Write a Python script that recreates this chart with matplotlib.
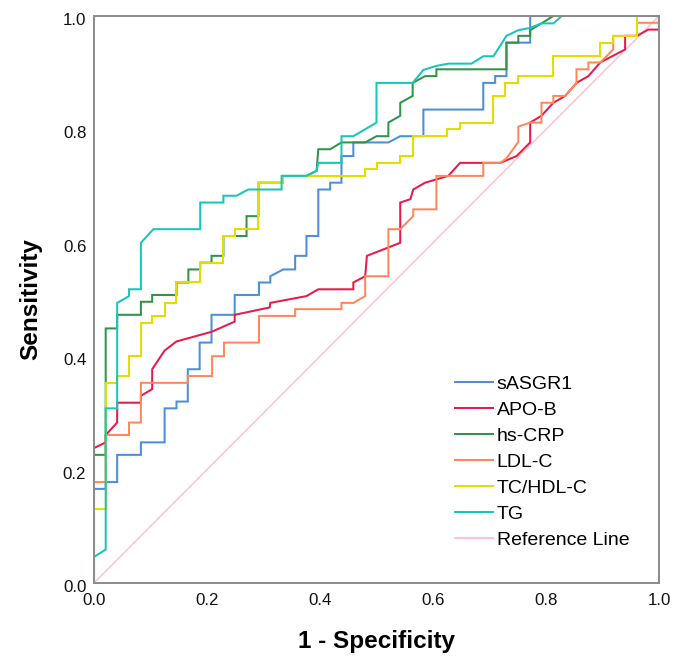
import numpy as np
import matplotlib
matplotlib.use("Agg")
import matplotlib.pyplot as plt
from matplotlib.transforms import ScaledTranslation

# ROC curve vertices (1 - specificity, sensitivity)
sasgr1 = [(0,0),(0,0.166),(0.0207,0.166),(0.0207,0.178),(0.041,0.178),(0.041,0.226),
          (0.083,0.226),(0.083,0.248),(0.125,0.248),(0.125,0.308),(0.146,0.308),(0.146,0.320),
          (0.166,0.320),(0.166,0.377),(0.187,0.377),(0.187,0.424),(0.208,0.424),(0.208,0.473),
          (0.249,0.473),(0.249,0.508),(0.292,0.508),(0.292,0.530),(0.312,0.530),(0.312,0.541),
          (0.335,0.553),(0.356,0.553),(0.356,0.577),(0.376,0.577),(0.376,0.612),(0.397,0.612),
          (0.397,0.694),(0.418,0.694),(0.418,0.706),(0.438,0.706),(0.438,0.753),(0.459,0.753),
          (0.459,0.777),(0.521,0.777),(0.542,0.788),(0.583,0.788),(0.583,0.835),(0.689,0.835),
          (0.689,0.882),(0.710,0.882),(0.710,0.894),(0.730,0.894),(0.730,0.953),(0.772,0.953),
          (0.772,1.0),(1.0,1.0)]

apob = [(0,0),(0,0.238),(0.0207,0.248),(0.0207,0.261),(0.041,0.283),(0.041,0.318),
        (0.083,0.318),(0.083,0.330),(0.103,0.342),(0.103,0.377),(0.125,0.410),(0.146,0.426),
        (0.208,0.443),(0.249,0.461),(0.249,0.473),(0.311,0.486),(0.312,0.494),(0.376,0.506),
        (0.397,0.518),(0.459,0.518),(0.459,0.530),(0.480,0.541),(0.483,0.577),(0.542,0.600),
        (0.542,0.671),(0.560,0.677),(0.565,0.694),(0.586,0.706),(0.627,0.718),(0.648,0.741),
        (0.719,0.741),(0.748,0.753),(0.772,0.777),(0.772,0.812),(0.792,0.824),(0.813,0.847),
        (0.834,0.859),(0.854,0.882),(0.875,0.894),(0.896,0.918),(0.940,0.941),(0.940,0.965),
        (0.961,0.965),(0.981,0.976),(1.0,0.976),(1.0,1.0)]

hscrp = [(0,0),(0,0.226),(0.0207,0.226),(0.0207,0.449),(0.041,0.449),(0.041,0.473),
         (0.083,0.473),(0.083,0.496),(0.103,0.496),(0.103,0.508),(0.146,0.508),(0.146,0.530),
         (0.167,0.530),(0.167,0.553),(0.188,0.553),(0.188,0.565),(0.208,0.565),(0.208,0.577),
         (0.229,0.577),(0.229,0.612),(0.270,0.612),(0.270,0.647),(0.291,0.647),(0.291,0.706),
         (0.334,0.706),(0.334,0.718),(0.376,0.718),(0.394,0.727),(0.397,0.765),(0.418,0.765),
         (0.438,0.777),(0.480,0.777),(0.500,0.788),(0.521,0.788),(0.521,0.812),(0.542,0.824),
         (0.542,0.847),(0.564,0.859),(0.564,0.882),(0.586,0.894),(0.606,0.894),(0.606,0.906),
         (0.730,0.906),(0.730,0.953),(0.751,0.953),(0.751,0.965),(0.772,0.965),(0.772,0.975),
         (0.792,0.987),(0.813,1.0),(1.0,1.0)]

ldlc = [(0,0),(0,0.178),(0.0207,0.178),(0.0207,0.261),(0.062,0.261),(0.062,0.283),
        (0.083,0.283),(0.083,0.353),(0.166,0.353),(0.166,0.365),(0.209,0.365),(0.209,0.400),
        (0.230,0.400),(0.230,0.424),(0.292,0.424),(0.292,0.471),(0.356,0.471),(0.356,0.483),
        (0.438,0.483),(0.438,0.494),(0.459,0.494),(0.480,0.506),(0.480,0.541),(0.521,0.541),
        (0.521,0.624),(0.542,0.624),(0.565,0.647),(0.565,0.659),(0.606,0.659),(0.606,0.718),
        (0.689,0.718),(0.689,0.741),(0.719,0.741),(0.730,0.749),(0.751,0.778),(0.751,0.805),
        (0.772,0.812),(0.792,0.812),(0.792,0.847),(0.813,0.847),(0.813,0.859),(0.834,0.859),
        (0.854,0.882),(0.854,0.906),(0.875,0.906),(0.875,0.918),(0.896,0.918),(0.919,0.941),
        (0.919,0.965),(0.961,0.965),(0.961,0.988),(1.0,0.988),(1.0,1.0)]

tchdl = [(0,0),(0,0.130),(0.0207,0.130),(0.0207,0.353),(0.041,0.353),(0.041,0.365),
         (0.062,0.365),(0.062,0.400),(0.083,0.400),(0.083,0.459),(0.103,0.459),(0.103,0.471),
         (0.125,0.471),(0.125,0.494),(0.146,0.494),(0.146,0.530),(0.188,0.530),(0.188,0.565),
         (0.229,0.565),(0.229,0.612),(0.250,0.612),(0.250,0.624),(0.291,0.624),(0.291,0.706),
         (0.334,0.706),(0.334,0.718),(0.480,0.718),(0.480,0.730),(0.500,0.730),(0.500,0.741),
         (0.542,0.741),(0.542,0.753),(0.565,0.753),(0.565,0.788),(0.624,0.788),(0.624,0.800),
         (0.648,0.800),(0.648,0.812),(0.707,0.812),(0.707,0.859),(0.727,0.859),(0.727,0.882),
         (0.751,0.882),(0.751,0.894),(0.813,0.894),(0.813,0.929),(0.896,0.929),(0.896,0.953),
         (0.919,0.953),(0.919,0.965),(0.961,0.965),(0.961,1.0),(1.0,1.0)]

tg = [(0,0),(0,0.046),(0.0207,0.059),(0.0207,0.308),(0.041,0.308),(0.041,0.494),
      (0.062,0.506),(0.062,0.518),(0.083,0.518),(0.083,0.600),(0.105,0.624),(0.188,0.624),
      (0.188,0.671),(0.229,0.671),(0.229,0.683),(0.2525,0.683),(0.273,0.694),(0.332,0.694),
      (0.332,0.718),(0.376,0.718),(0.394,0.727),(0.397,0.741),(0.438,0.741),(0.438,0.788),
      (0.459,0.788),(0.500,0.812),(0.500,0.882),(0.564,0.882),(0.583,0.905),(0.606,0.912),
      (0.627,0.916),(0.668,0.916),(0.689,0.929),(0.707,0.929),(0.730,0.965),(0.751,0.975),
      (0.772,0.979),(0.792,0.987),(0.813,0.987),(0.828,1.0),(1.0,1.0)]

labels = ["sASGR1", "APO-B", "hs-CRP", "LDL-C", "TC/HDL-C", "TG"]
curves = [sasgr1, apob, hscrp, ldlc, tchdl, tg]
colors = ["#4A8FD8", "#E8194B", "#2F9447", "#FF875A", "#E3DE00", "#14C7B6"]
ref_color = "#FBC3D3"
ticks = [0.0, 0.2, 0.4, 0.6, 0.8, 1.0]

plt.rcParams['font.family'] = ['Liberation Sans', 'DejaVu Sans']

fig = plt.figure(figsize=(6.85, 6.70), dpi=100)
ax = fig.add_axes([94/685, 87/670, 565/685, 567/670])

ax.plot([0, 1], [0, 1], color=ref_color, lw=1.1, zorder=1)
for lab, pts, col in zip(labels, curves, colors):
    arr = np.array(pts)
    ax.plot(arr[:, 0], arr[:, 1], color=col, lw=1.45, label=lab, zorder=2,
            solid_joinstyle='miter')
ax.plot([], [], color=ref_color, lw=1.45, label="Reference Line")

ax.set_xlim(0, 1)
ax.set_ylim(0, 1)
ax.set_xticks(ticks)
ax.set_yticks(ticks)
ax.set_xticklabels([f"{t:.1f}" for t in ticks])
ax.set_yticklabels([f"{t:.1f}" for t in ticks])
ax.tick_params(length=0, labelsize=12.2, colors='#111111')
ax.tick_params(axis='x', pad=7)
ax.tick_params(axis='y', pad=5.5)
shift = ScaledTranslation(0, -3/100, fig.dpi_scale_trans)
for lbl in ax.get_yticklabels():
    lbl.set_transform(lbl.get_transform() + shift)
for s in ax.spines.values():
    s.set_color('#8a8a8a')
    s.set_linewidth(1.4)

ax.set_xlabel("1 - Specificity", fontsize=17.5, fontweight='bold', labelpad=16)
ax.set_ylabel("Sensitivity", fontsize=17.5, fontweight='bold', labelpad=15)

leg = ax.legend(loc='upper left', bbox_to_anchor=(0.639, 0.366), frameon=False,
                fontsize=14, handlelength=1.95, handletextpad=0.2,
                labelspacing=0.43, borderaxespad=0, borderpad=0)

fig.savefig("out.png", dpi=100)
